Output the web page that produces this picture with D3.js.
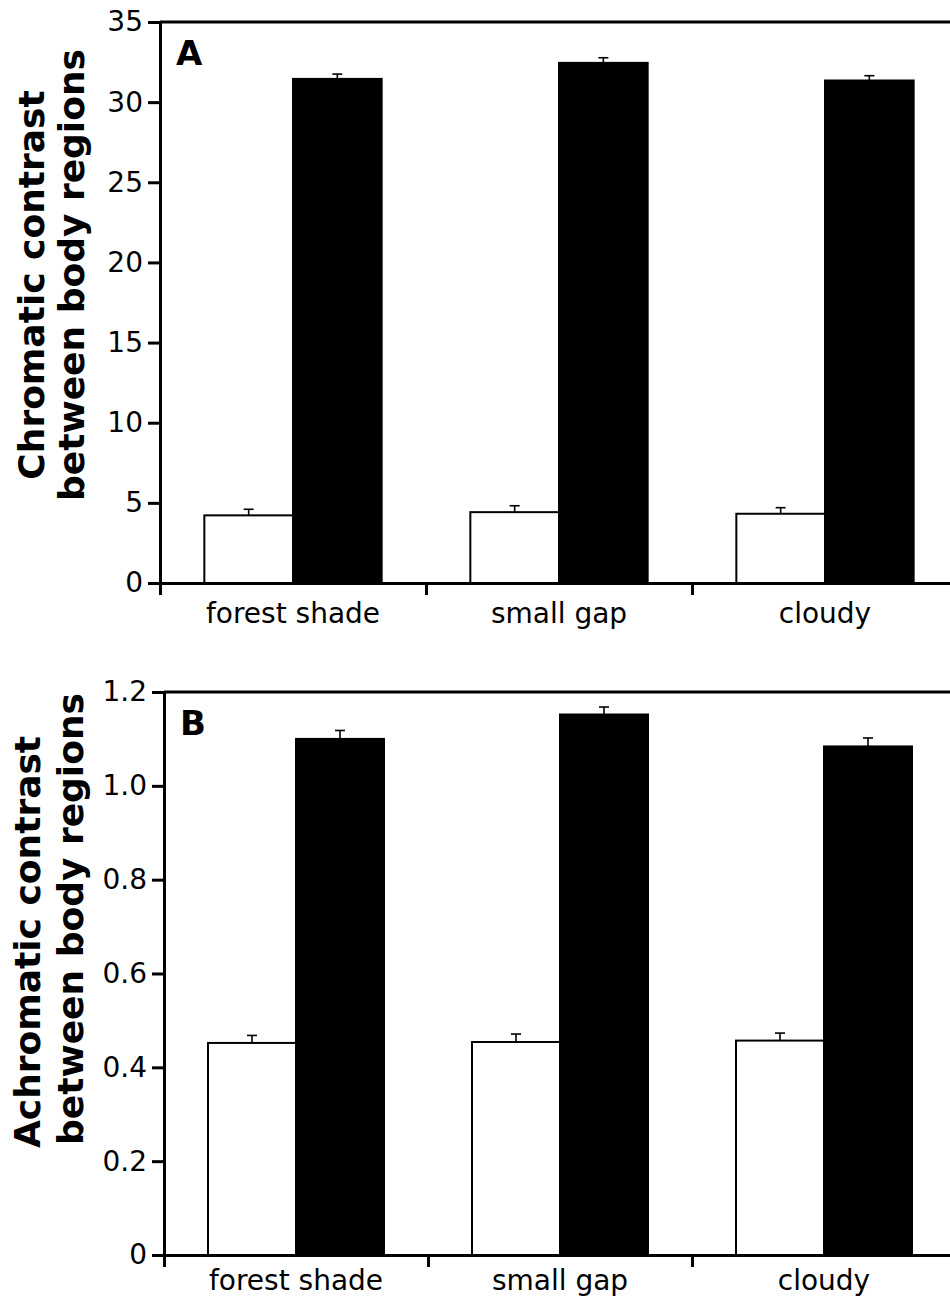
<!DOCTYPE html>
<html lang="en">
<head>
<meta charset="utf-8">
<title>Contrast between body regions</title>
<script src="https://cdn.jsdelivr.net/npm/d3@7"></script>
<style>
  body { margin: 0; background: #fff; }
  svg text { font-family: "DejaVu Sans", Verdana, sans-serif; fill: #000; }
</style>
</head>
<body>
<script>
// data
var categories = ["forest shade", "small gap", "cloudy"];
var seriesKeys = ["white", "black"];

// panel A: chromatic contrast
var chromWhite = [4.22, 4.42, 4.32];
var chromWhiteErr = [0.38, 0.40, 0.38];
var chromBlack = [31.45, 32.45, 31.35];
var chromBlackErr = [0.30, 0.32, 0.30];
var chromTicks = [0, 5, 10, 15, 20, 25, 30, 35];
var chromTickLabels = ["0", "5", "10", "15", "20", "25", "30", "35"];

// panel B: achromatic contrast
var achromWhite = [0.452, 0.454, 0.457];
var achromWhiteErr = [0.016, 0.017, 0.016];
var achromBlack = [1.100, 1.152, 1.084];
var achromBlackErr = [0.018, 0.016, 0.018];
var achromTicks = [0, 0.2, 0.4, 0.6, 0.8, 1.0, 1.2];
var achromTickLabels = ["0", "0.2", "0.4", "0.6", "0.8", "1.0", "1.2"];

var W = 950, H = 1302;
var svg = d3.select("body").append("svg")
    .attr("width", W)
    .attr("height", H);

function panel(opt) {
    var g = svg.append("g");

    var y = d3.scaleLinear()
        .domain([0, opt.ticks[opt.ticks.length - 1]])
        .range([opt.bottom, opt.top]);

    var x0 = d3.scaleBand()
        .domain(categories)
        .range([opt.left, opt.right])
        .paddingInner(0).paddingOuter(0);

    var x1 = d3.scaleBand()
        .domain(seriesKeys)
        .range([0, x0.bandwidth()])
        .paddingInner(0).paddingOuter(0.5);

    var rows = [];
    categories.forEach(function(c, i) {
        rows.push({cat: c, key: "white", v: opt.white[i], e: opt.whiteErr[i]});
        rows.push({cat: c, key: "black", v: opt.black[i], e: opt.blackErr[i]});
    });

    // bars
    g.selectAll("rect.bar")
        .data(rows)
        .enter()
        .append("rect")
        .attr("class", "bar")
        .attr("x", function(d) { return x0(d.cat) + x1(d.key); })
        .attr("y", function(d) { return y(d.v); })
        .attr("width", x1.bandwidth())
        .attr("height", function(d) { return y(0) - y(d.v); })
        .attr("fill", function(d) { return d.key == "white" ? "#fff" : "#000"; })
        .attr("stroke", "#000")
        .attr("stroke-width", 2);

    // error bars (upper only)
    var eb = g.selectAll("g.err")
        .data(rows)
        .enter()
        .append("g")
        .attr("class", "err")
        .attr("stroke", "#000")
        .attr("stroke-width", 1.6);
    eb.append("line")
        .attr("x1", function(d) { return x0(d.cat) + x1(d.key) + x1.bandwidth() / 2; })
        .attr("x2", function(d) { return x0(d.cat) + x1(d.key) + x1.bandwidth() / 2; })
        .attr("y1", function(d) { return y(d.v); })
        .attr("y2", function(d) { return y(d.v + d.e); });
    eb.append("line")
        .attr("x1", function(d) { return x0(d.cat) + x1(d.key) + x1.bandwidth() / 2 - 5; })
        .attr("x2", function(d) { return x0(d.cat) + x1(d.key) + x1.bandwidth() / 2 + 5; })
        .attr("y1", function(d) { return y(d.v + d.e); })
        .attr("y2", function(d) { return y(d.v + d.e); });

    // top frame line
    g.append("line")
        .attr("x1", opt.left).attr("x2", W)
        .attr("y1", y.range()[1]).attr("y2", y.range()[1])
        .attr("stroke", "#000").attr("stroke-width", 3);

    // y axis
    var yAxis = g.append("g")
        .attr("transform", "translate(" + opt.left + ",0)")
        .call(d3.axisLeft(y)
            .tickValues(opt.ticks)
            .tickFormat(function(d, i) { return opt.tickLabels[i]; })
            .tickSize(12).tickSizeOuter(0).tickPadding(5));
    yAxis.selectAll("path, line").attr("stroke", "#000").attr("stroke-width", 3);
    yAxis.selectAll("text")
        .attr("font-size", 28)
        .attr("font-family", "DejaVu Sans")
        .attr("fill", "#000");

    // x axis: boundary ticks
    var xb = d3.scaleLinear().domain([0, categories.length]).range([opt.left, opt.right]);
    var xAxis = g.append("g")
        .attr("transform", "translate(0," + opt.bottom + ")")
        .call(d3.axisBottom(xb)
            .tickValues(d3.range(categories.length + 1))
            .tickFormat("")
            .tickSize(12).tickSizeOuter(0));
    xAxis.selectAll("path, line").attr("stroke", "#000").attr("stroke-width", 3);

    // x axis: category labels
    var xLab = g.append("g")
        .attr("transform", "translate(0," + opt.bottom + ")")
        .call(d3.axisBottom(x0).tickSize(0).tickPadding(opt.labelPad));
    xLab.select(".domain").remove();
    xLab.selectAll("text")
        .attr("font-size", 28)
        .attr("font-family", "DejaVu Sans")
        .attr("fill", "#000");

    // panel letter
    g.append("text")
        .attr("x", opt.left + 16)
        .attr("y", opt.top + 43)
        .attr("font-size", 34)
        .attr("font-weight", "bold")
        .text(opt.letter);

    // y title, two lines
    opt.title.forEach(function(t, i) {
        g.append("text")
            .attr("transform", "translate(" + opt.titleX[i] + "," + opt.titleY[i] + ") rotate(-90)")
            .attr("text-anchor", "middle")
            .attr("font-size", 36)
            .attr("font-weight", "bold")
            .text(t);
    });
}

panel({
    letter: "A",
    left: 160, right: 958, top: 22, bottom: 583,
    ticks: chromTicks, tickLabels: chromTickLabels,
    white: chromWhite, whiteErr: chromWhiteErr,
    black: chromBlack, blackErr: chromBlackErr,
    labelPad: 20,
    title: ["Chromatic contrast", "between body regions"],
    titleX: [44, 84], titleY: [285, 275]
});

panel({
    letter: "B",
    left: 164, right: 956, top: 692, bottom: 1255,
    ticks: achromTicks, tickLabels: achromTickLabels,
    white: achromWhite, whiteErr: achromWhiteErr,
    black: achromBlack, blackErr: achromBlackErr,
    labelPad: 15,
    title: ["Achromatic contrast", "between body regions"],
    titleX: [40, 83], titleY: [942, 919]
});
</script>
</body>
</html>
